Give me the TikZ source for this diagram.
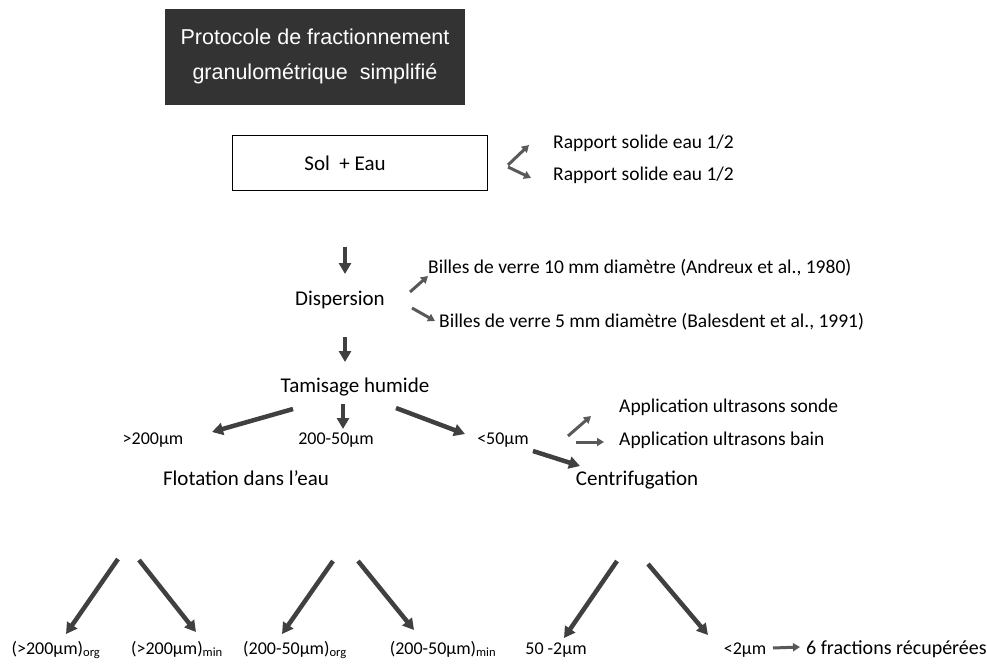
\documentclass[tikz,border=0pt]{standalone}
\usepackage{fontspec}
\setmainfont{Carlito}
\newfontfamily\titlefont{Liberation Sans}
\usetikzlibrary{arrows.meta}
\begin{document}
\begin{tikzpicture}[x=1pt,y=-1pt,
  lbl/.style={font=\fontsize{21}{24}\selectfont, inner sep=1pt},
  side/.style={font=\fontsize{19.5}{22}\selectfont, inner sep=1pt, anchor=west},
  sm/.style={font=\fontsize{18}{21}\selectfont, inner sep=1pt},
  bot/.style={font=\fontsize{18}{21}\selectfont, inner sep=1pt, anchor=base},
  fat/.style={draw=black!75, line width=4.5pt, -{Triangle[length=11pt,width=12pt]}},
  thinarr/.style={draw=black!65, line width=3pt, -{Triangle[length=7pt,width=8pt]}}]
\useasboundingbox (0,0) rectangle (987,668);
% title
\node[fill=black!80, minimum width=300pt, minimum height=96pt, inner sep=0pt] (title) at (315,57) {};
\node[text=white, align=center, font=\titlefont\fontsize{21.5}{35}\selectfont] (titletxt) at (315,56) {Protocole de fractionnement\\granulom\'etrique\ \ simplifi\'e};
% main column
\node[draw, line width=1.2pt, minimum width=255pt, minimum height=55pt, inner sep=0pt] (sol) at (360,163) {};
\node[lbl] (soltxt) at (345,163) {Sol\ \ + Eau};
\node[side] (r1) at (552,143) {Rapport solide eau 1/2};
\node[side] (r2) at (552,175) {Rapport solide eau 1/2};
\node[lbl] (disp) at (340,300) {Dispersion};
\node[side] (b1) at (427,268) {Billes de verre 10 mm diam\`etre (Andreux et al., 1980)};
\node[side] (b2) at (438,322) {Billes de verre 5 mm diam\`etre (Balesdent et al., 1991)};
\node[lbl] (tam) at (355,387) {Tamisage humide};
\node[sm] (g200) at (153,440) {>200µm};
\node[sm] (g20050) at (336,440) {200-50µm};
\node[sm] (g50) at (503,440) {<50µm};
\node[side] (us1) at (618,407) {Application ultrasons sonde};
\node[side] (us2) at (618,440) {Application ultrasons bain};
\node[lbl] (flot) at (246,478) {Flotation dans l'eau};
\node[lbl] (centri) at (637,480) {Centrifugation};
% bottom labels
\node[bot] (f1) at (56,654) {(>200µm)\textsubscript{org}};
\node[bot] (f2) at (177,654) {(>200µm)\textsubscript{min}};
\node[bot] (f3) at (295,654) {(200-50µm)\textsubscript{org}};
\node[bot] (f4) at (443,654) {(200-50µm)\textsubscript{min}};
\node[bot] (f5) at (556,654) {50 -2µm};
\node[bot] (f6) at (745,654) {<2µm};
\node[font=\fontsize{20}{24}\selectfont, inner sep=1pt, anchor=base west] (six) at (805,654) {6 fractions r\'ecup\'er\'ees};
% arrow end points
\coordinate (a1s) at (345,247); \coordinate (a1e) at (345,274);
\coordinate (a2s) at (345,337); \coordinate (a2e) at (345,362);
\coordinate (r1s) at (508,165); \coordinate (r1e) at (529,145);
\coordinate (r2s) at (508,167); \coordinate (r2e) at (531,178);
\coordinate (b1s) at (410,292); \coordinate (b1e) at (428,276);
\coordinate (b2s) at (412,308); \coordinate (b2e) at (435,321);
\coordinate (t1s) at (293,409); \coordinate (t1e) at (212,432);
\coordinate (t2s) at (343,404); \coordinate (t2e) at (343,429);
\coordinate (t3s) at (396,408); \coordinate (t3e) at (465,434);
\coordinate (u1s) at (568,436); \coordinate (u1e) at (591,416);
\coordinate (u2s) at (576,442); \coordinate (u2e) at (604,442);
\coordinate (c1s) at (533,451); \coordinate (c1e) at (580,466);
\coordinate (d1s) at (118,559); \coordinate (d1e) at (66,634);
\coordinate (d2s) at (139,560); \coordinate (d2e) at (196,632);
\coordinate (d3s) at (333,561); \coordinate (d3e) at (282,634);
\coordinate (d4s) at (358,561); \coordinate (d4e) at (414,630);
\coordinate (d5s) at (617,561); \coordinate (d5e) at (564,638);
\coordinate (d6s) at (648,564); \coordinate (d6e) at (708,635);
\coordinate (e1s) at (773,648); \coordinate (e1e) at (800,647);
% arrows
\draw[fat] (a1s) -- (a1e);
\draw[fat] (a2s) -- (a2e);
\draw[thinarr] (r1s) -- (r1e);
\draw[thinarr] (r2s) -- (r2e);
\draw[thinarr] (b1s) -- (b1e);
\draw[thinarr] (b2s) -- (b2e);
\draw[fat] (t1s) -- (t1e);
\draw[fat] (t2s) -- (t2e);
\draw[fat] (t3s) -- (t3e);
\draw[thinarr] (u1s) -- (u1e);
\draw[thinarr] (u2s) -- (u2e);
\draw[fat] (c1s) -- (c1e);
\draw[fat] (d1s) -- (d1e);
\draw[fat] (d2s) -- (d2e);
\draw[fat] (d3s) -- (d3e);
\draw[fat] (d4s) -- (d4e);
\draw[fat] (d5s) -- (d5e);
\draw[fat] (d6s) -- (d6e);
\draw[thinarr] (e1s) -- (e1e);
\end{tikzpicture}
\end{document}
